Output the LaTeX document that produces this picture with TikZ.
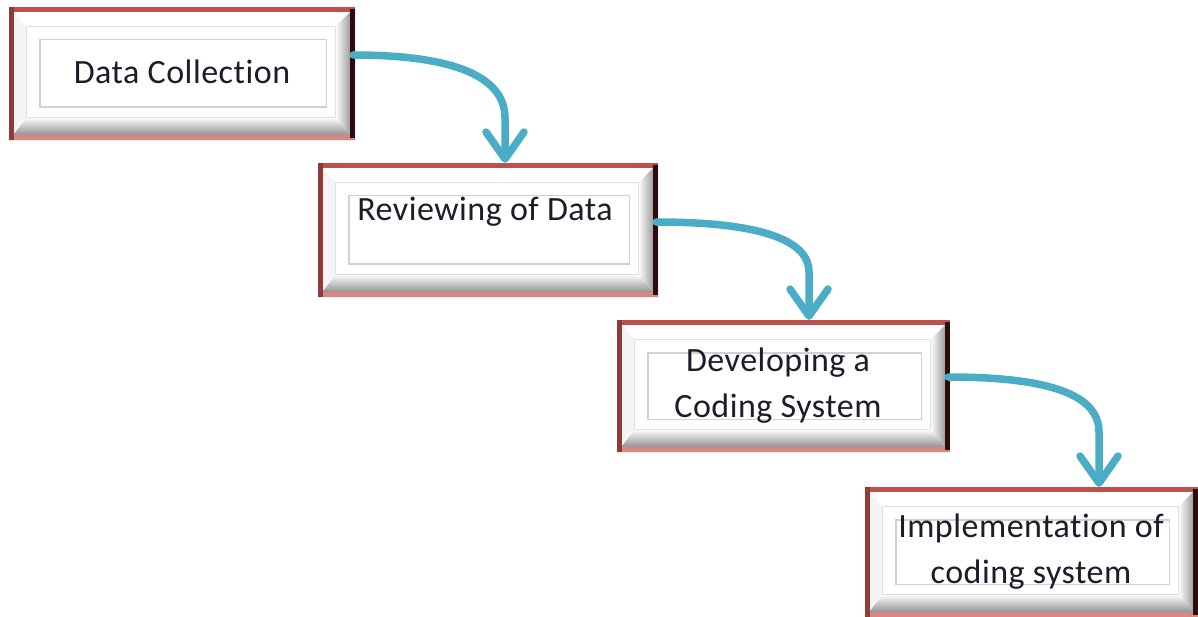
\documentclass[tikz,border=0pt]{standalone}
\usepackage{fontspec}
\setmainfont{Carlito}[Ligatures={NoCommon}, LetterSpace=1.5]
\usetikzlibrary{arrows.meta,calc}

\definecolor{flowteal}{HTML}{4BACC6}
\definecolor{rimtop}{HTML}{C0504D}
\definecolor{rimleft}{HTML}{8E3B39}
\definecolor{rimright}{HTML}{2E0C0C}
\definecolor{rimbottom}{HTML}{D78784}
\definecolor{labelink}{HTML}{1C1C2A}

\tikzset{
  boxshape/.style={draw=none, fill=white, inner sep=0pt},
  labeltext/.style={text=labelink, font=\fontsize{34}{46}\selectfont, align=center, inner sep=0pt},
  flow/.style={draw=flowteal, line width=7.5pt, line cap=round,
    -{Straight Barb[length=27pt, width=38pt, round]}},
}

% bevelled frame around a named node: light top/left faces, shaded right/bottom faces
\newcommand{\bevelbox}[5]{%
  \node[boxshape, minimum width=#4, minimum height=#5] (#1) at (#2,#3) {};
  \coordinate (#1-a) at ($(#1.north west)+(18,20)$);
  \coordinate (#1-b) at ($(#1.north east)+(-20,20)$);
  \coordinate (#1-c) at ($(#1.south east)+(-20,-23)$);
  \coordinate (#1-d) at ($(#1.south west)+(18,-23)$);
  \shade[left color=white, right color=black!50]
    (#1.north east) -- (#1.south east) -- (#1-c) -- (#1-b) -- cycle;
  \shade[top color=white, bottom color=black!55]
    (#1.south west) -- (#1.south east) -- (#1-c) -- (#1-d) -- cycle;
  \fill[black!4] (#1.north west) -- (#1.south west) -- (#1-d) -- (#1-a) -- cycle;
  \draw[black!12, line width=0.8pt] (#1-a) rectangle (#1-c);
  \draw[black!18, line width=1.4pt, fill=white]
    ($(#1.north west)+(31,33)$) rectangle ($(#1.south east)+(-29,-33)$);
  \draw[rimtop, line width=5pt] ($(#1.north west)+(0,2.5)$) -- ($(#1.north east)+(0,2.5)$);
  \draw[rimbottom, line width=5pt] ($(#1.south west)+(0,-2.5)$) -- ($(#1.south east)+(0,-2.5)$);
  \draw[rimleft, line width=5pt] ($(#1.north west)+(2.5,0)$) -- ($(#1.south west)+(2.5,0)$);
  \draw[rimright, line width=5pt] ($(#1.north east)+(-2.5,2)$) -- ($(#1.south east)+(-2.5,-2)$);
}

\begin{document}
\begin{tikzpicture}[x=1pt, y=-1pt]
  \useasboundingbox (0,0) rectangle (1198,617);

  \bevelbox{b1}{182}{73.5}{346}{133}
  \bevelbox{b2}{488}{230}{340}{134}
  \bevelbox{b3}{783.5}{386}{333}{132}
  \bevelbox{b4}{1031.5}{552}{333}{130}

  \node[labeltext] (t1) at (182,72) {Data Collection};
  \node[labeltext] (t2) at (485,212) {Reviewing of Data};
  \node[labeltext] (t3) at (778,386) {Developing a\\Coding System};
  \node[labeltext] (t4) at (1031,552) {Implementation of\\coding system};

  \draw[flow] ($(b1.east)+(-2,-18.5)$) .. controls (450,55) and (505,75) .. (505,118)
    -- ($(b2.north)+(17,0)$);
  \draw[flow] ($(b2.east)+(-2,-8)$) .. controls (760,222) and (809,240) .. (809,272)
    -- ($(b3.north)+(25.5,0)$);
  \draw[flow] ($(b3.east)+(-2,-9)$) .. controls (1050,377) and (1099,395) .. (1099,432)
    -- ($(b4.north)+(67.5,0)$);
\end{tikzpicture}
\end{document}
